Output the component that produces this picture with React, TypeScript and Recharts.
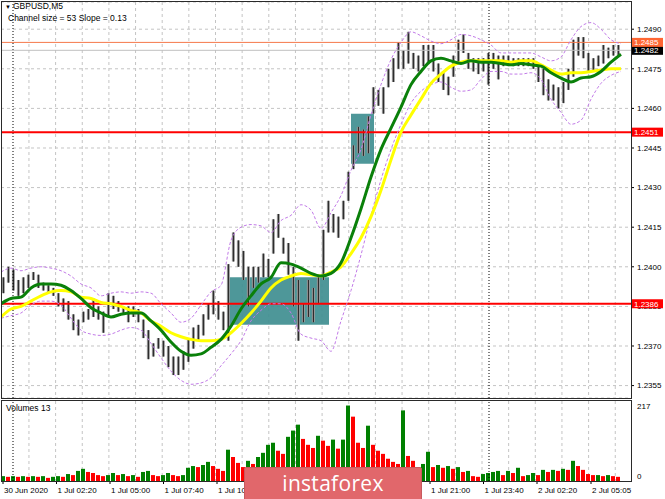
import React from 'react';
import {
  ComposedChart,
  Bar,
  Line,
  XAxis,
  YAxis,
  CartesianGrid,
  ReferenceLine,
  ReferenceArea,
} from 'recharts';

const FONT = '"Liberation Sans", Arial, sans-serif';

// 15-minute bars, 30 Jun 23:35 .. 2 Jul 06:35 (GBPUSD)
const highs = [
  1.2396, 1.24, 1.2399, 1.2395, 1.2396, 1.2397, 1.2398, 1.2397, 1.2394, 1.2393,
  1.2392, 1.239, 1.2388, 1.2387, 1.2382, 1.238, 1.2383, 1.2384, 1.2388, 1.2385,
  1.2383, 1.239, 1.2389, 1.2387, 1.2385, 1.2385, 1.2385, 1.2384, 1.238, 1.2376,
  1.2371, 1.2373, 1.2372, 1.237, 1.2366, 1.2366, 1.2368, 1.2373, 1.2377, 1.2378,
  1.2382, 1.2386, 1.2391, 1.2387, 1.2383, 1.2401, 1.2413, 1.241, 1.2406, 1.24,
  1.24, 1.24, 1.2405, 1.2403, 1.2418, 1.242, 1.2411, 1.2409, 1.24, 1.2395,
  1.2386, 1.2395, 1.2392, 1.2397, 1.2414, 1.2425, 1.242, 1.2419, 1.2425, 1.2436,
  1.2446, 1.2453, 1.2452, 1.2457, 1.2468, 1.2467, 1.2468, 1.2475, 1.2479, 1.2485,
  1.2482, 1.2489, 1.2481, 1.248, 1.2484, 1.2484, 1.2484, 1.2477, 1.2474, 1.2472,
  1.248, 1.2486, 1.2488, 1.2481, 1.2479, 1.2479, 1.2479, 1.2481, 1.2481, 1.248,
  1.248, 1.248, 1.2479, 1.2479, 1.2479, 1.2479, 1.2479, 1.2477, 1.2475, 1.2471,
  1.2469, 1.2468, 1.247, 1.2475, 1.2486, 1.2487, 1.2487, 1.2481, 1.2479, 1.248,
  1.2484, 1.2483, 1.2484, 1.2484,
];
const lows = [
  1.239, 1.2394, 1.2391, 1.2389, 1.239, 1.2392, 1.2395, 1.2392, 1.2391, 1.239,
  1.2389, 1.2385, 1.2383, 1.238, 1.2376, 1.2374, 1.2379, 1.238, 1.2381, 1.238,
  1.2375, 1.2381, 1.2384, 1.2383, 1.2382, 1.2379, 1.2381, 1.2379, 1.2373, 1.2365,
  1.2366, 1.2369, 1.2366, 1.2362, 1.2359, 1.2359, 1.2361, 1.2364, 1.2369, 1.2372,
  1.2374, 1.238, 1.2382, 1.238, 1.2376, 1.2372, 1.2402, 1.24, 1.2395, 1.2385,
  1.2392, 1.2394, 1.2396, 1.2396, 1.2405, 1.2411, 1.2405, 1.2397, 1.2385, 1.2372,
  1.2379, 1.2381, 1.2379, 1.2386, 1.2395, 1.2413, 1.2413, 1.2411, 1.2418, 1.2425,
  1.2437, 1.2443, 1.2442, 1.2443, 1.2458, 1.2461, 1.2458, 1.2468, 1.247, 1.2475,
  1.2475, 1.2477, 1.2475, 1.2474, 1.2476, 1.2477, 1.2474, 1.247, 1.2467, 1.2465,
  1.2472, 1.2477, 1.2481, 1.2475, 1.2474, 1.2473, 1.2474, 1.2469, 1.2475, 1.2471,
  1.2476, 1.2476, 1.2476, 1.2476, 1.2476, 1.2476, 1.2475, 1.247, 1.2465, 1.2463,
  1.2463, 1.246, 1.2462, 1.2467, 1.2472, 1.248, 1.2479, 1.2474, 1.2474, 1.2476,
  1.2477, 1.2479, 1.248, 1.248,
];
const volumes = [
  14, 12, 14, 12, 14, 12, 14, 12, 14, 9,
  12, 14, 12, 20, 17, 29, 35, 26, 23, 17,
  14, 17, 23, 17, 20, 14, 17, 12, 26, 29,
  17, 14, 17, 23, 17, 14, 17, 38, 43, 40,
  46, 55, 43, 35, 29, 90, 69, 52, 40, 58,
  49, 69, 81, 104, 110, 87, 78, 127, 145, 162,
  121, 104, 95, 130, 116, 101, 119, 93, 119, 217,
  185, 110, 95, 159, 104, 87, 78, 64, 55, 49,
  203, 72, 58, 40, 49, 84, 40, 46, 38, 43,
  35, 40, 26, 29, 14, 12, 20, 23, 26, 29,
  17, 29, 23, 38, 14, 17, 23, 17, 32, 26,
  32, 29, 35, 32, 58, 43, 32, 20, 17, 17,
  14, 17, 14, 12,
];

// moving averages and channel, one point every 2 bars
const greenMA = [
  1.2386, 1.2388, 1.23885, 1.2392, 1.23935, 1.23935, 1.2393, 1.2391, 1.2388, 1.23845,
  1.23825, 1.2381, 1.2382, 1.23825, 1.23825, 1.23795, 1.2376, 1.23715, 1.2368, 1.23665,
  1.2367, 1.23695, 1.23725, 1.23775, 1.2384, 1.2389, 1.23935, 1.2396, 1.24015, 1.2401,
  1.23995, 1.23975, 1.23965, 1.23975, 1.24015, 1.2411, 1.2422, 1.2434, 1.24445, 1.24525,
  1.24605, 1.2469, 1.2474, 1.2478, 1.2479, 1.2478, 1.2477, 1.2478, 1.24775, 1.24775,
  1.2477, 1.24765, 1.2477, 1.24765, 1.2476, 1.24735, 1.24715, 1.247, 1.24715, 1.2472,
  1.2474, 1.24775, 1.24805,
];
const yellowMA = [
  1.2381, 1.2384, 1.2385, 1.2387, 1.2389, 1.23905, 1.2391, 1.23905, 1.23885, 1.2388,
  1.23865, 1.2386, 1.2385, 1.23835, 1.23825, 1.23795, 1.23775, 1.2375, 1.23735, 1.23725,
  1.2372, 1.2372, 1.23725, 1.2375, 1.23785, 1.23825, 1.2387, 1.2392, 1.2395, 1.23965,
  1.23975, 1.2397, 1.23965, 1.2398, 1.24, 1.2405, 1.2411, 1.2419, 1.2429, 1.24405,
  1.2451, 1.24575, 1.24635, 1.24695, 1.2473, 1.2476, 1.24775, 1.2478, 1.2478, 1.2478,
  1.2478, 1.24775, 1.2478, 1.2478, 1.24765, 1.24745, 1.2473, 1.24735, 1.24735, 1.2474,
  1.24745, 1.2475, 1.2475,
];
const channelUpper = [
  1.2398, 1.23995, 1.23985, 1.23995, 1.24, 1.23995, 1.23985, 1.23965, 1.23935, 1.2392,
  1.2389, 1.239, 1.23905, 1.239, 1.23905, 1.239, 1.2386, 1.23825, 1.2379, 1.23805,
  1.23855, 1.23905, 1.2393, 1.241, 1.2415, 1.2416, 1.24155, 1.2413, 1.24175, 1.24195,
  1.24235, 1.24215, 1.24145, 1.24205, 1.2427, 1.24365, 1.24445, 1.24575, 1.2469, 1.24785,
  1.2485, 1.2489, 1.24875, 1.24855, 1.24845, 1.2486, 1.2488, 1.24875, 1.2486, 1.2484,
  1.2481, 1.2481, 1.2481, 1.2481, 1.24795, 1.2478, 1.24795, 1.2486, 1.2491, 1.24925,
  1.249, 1.2486, 1.24845,
];
const channelLower = [
  1.23805, 1.23815, 1.23825, 1.23855, 1.2387, 1.2387, 1.23855, 1.23805, 1.2376, 1.23745,
  1.2374, 1.23745, 1.2376, 1.2377, 1.2376, 1.2371, 1.23655, 1.23605, 1.2357, 1.23555,
  1.2356, 1.2358, 1.23625, 1.2367, 1.2372, 1.23795, 1.23835, 1.2386, 1.2386, 1.23825,
  1.23745, 1.2373, 1.2372, 1.2368, 1.23795, 1.2391, 1.24045, 1.24195, 1.2433, 1.24445,
  1.2454, 1.2462, 1.24665, 1.2469, 1.247, 1.2468, 1.24665, 1.2467, 1.2471, 1.2474,
  1.2474, 1.2473, 1.2473, 1.24735, 1.2471, 1.24635, 1.24585, 1.2454, 1.24555, 1.24635,
  1.24695, 1.24725, 1.2474,
];

const priceTicks = [1.2355, 1.237, 1.2385, 1.24, 1.2415, 1.243, 1.2445, 1.246, 1.2475, 1.249];
// labels 13:00, 15:40 and 18:20 lie under the watermark in the reference
const timeLabels = [
  '30 Jun 2020', '1 Jul 02:20', '1 Jul 05:00', '1 Jul 07:40', '1 Jul 10:20',
  '1 Jul 21:00', '1 Jul 23:40', '2 Jul 02:20', '2 Jul 05:05',
];
const timeSlots = [-0.1, 10.6, 21.3, 32, 42.7, 85.3, 96, 106.7, 117.5];
const daySeparators = [1.9, 97.1];

const supportLevel = 1.2386;
const resistanceLevel = 1.2451;
const highLevel = 1.2485;
const lastPrice = 1.2482;
const zone1 = { x1: 44.7, x2: 65.1, y1: 1.2378, y2: 1.2396 };
const zone2 = { x1: 69.5, x2: 74.1, y1: 1.2439, y2: 1.2458 };

const PRICE_DOMAIN: [number, number] = [1.23503, 1.25003];
const SLOT_DOMAIN: [number, number] = [-0.5, 125.5];

const candleData = highs.map((h, i) => ({ slot: i, range: [lows[i], h] }));
const volumeData = volumes.map((v, i) => ({
  slot: i,
  vol: v,
  up: i === 0 || v >= volumes[i - 1],
}));
const maSlots = greenMA.map((_, k) => 2 * k - 0.5);
const toSeries = (vals: number[]) => vals.map((v, k) => ({ slot: maSlots[k], v }));
const greenData = toSeries(greenMA);
const yellowData = toSeries(yellowMA);
const upperData = toSeries(channelUpper);
const lowerData = toSeries(channelLower);

const gridX: number[] = [];
for (let k = 1; k < 24; k++) gridX.push(2.3 + 26.65 * k);

const CandleShape = (p: any) => {
  const { x, y, width, height } = p;
  if (x == null || y == null) return null;
  const cx = x + width / 2;
  const top = Math.min(y, y + height);
  const bot = Math.max(y, y + height);
  return (
    <g>
      <rect x={cx - 1.5} y={top} width={3} height={Math.max(bot - top, 1)} fill="#9a9a9a" />
      <line x1={cx} x2={cx} y1={top} y2={Math.max(bot, top + 1)} stroke="#1e1e1e" strokeWidth={1} />
    </g>
  );
};

const VolShape = (p: any) => {
  const { x, y, width, height, payload } = p;
  if (x == null || y == null) return null;
  return (
    <rect
      x={x}
      y={y}
      width={width}
      height={Math.max(height, 0)}
      fill={payload && payload.up ? '#008000' : '#ff0000'}
    />
  );
};

const PriceTag = (p: any) => {
  const { viewBox, text, bg } = p;
  if (!viewBox) return null;
  const x = viewBox.x + viewBox.width + 1;
  const y = viewBox.y;
  return (
    <g>
      <rect x={x} y={y - 4.5} width={31} height={9} fill={bg} />
      <text x={x + 2} y={y + 3} fontSize={8} fill="#ffffff" fontFamily={FONT}>
        {text}
      </text>
    </g>
  );
};

const TimeTick = (p: any) => {
  const { x, y, index } = p;
  const label = timeLabels[index ?? 0] ?? '';
  return (
    <g>
      <line x1={x} x2={x} y1={y - 3} y2={y} stroke="#000" strokeWidth={1} />
      <text x={x + 1} y={y + 9} fontSize={8} fill="#000" fontFamily={FONT}>
        {label}
      </text>
    </g>
  );
};

const VolTick = (p: any) => {
  const { x, y, payload } = p;
  const dy = payload.value === 0 ? -2 : 3;
  return (
    <text x={x} y={y + dy} fontSize={8} fill="#000" fontFamily={FONT}>
      {payload.value}
    </text>
  );
};

export default function App() {
  return (
    <div
      style={{
        position: 'absolute',
        left: 0,
        top: 0,
        width: 665,
        height: 499,
        background: '#ffffff',
        overflow: 'hidden',
        fontFamily: FONT,
      }}
    >
      <div style={{ position: 'absolute', left: 0, top: 0 }}>
        <ComposedChart
          width={665}
          height={400}
          data={candleData}
          margin={{ top: 2, right: 0, bottom: 2, left: 1 }}
        >
          <CartesianGrid stroke="#c4c4c4" strokeDasharray="3 3" verticalPoints={gridX} />
          <XAxis type="number" dataKey="slot" domain={SLOT_DOMAIN} allowDataOverflow hide />
          <YAxis
            orientation="right"
            type="number"
            domain={PRICE_DOMAIN}
            allowDataOverflow
            ticks={priceTicks}
            interval={0}
            width={34}
            axisLine={false}
            tickLine={{ stroke: '#000' }}
            tickSize={3}
            tickMargin={3}
            tick={{ fontSize: 8, fill: '#000', fontFamily: FONT }}
            tickFormatter={(v: number) => v.toFixed(4)}
          />
          <ReferenceArea
            x1={zone1.x1}
            x2={zone1.x2}
            y1={zone1.y1}
            y2={zone1.y2}
            fill="#3f8e90"
            fillOpacity={0.92}
            stroke="none"
          />
          <ReferenceArea
            x1={zone2.x1}
            x2={zone2.x2}
            y1={zone2.y1}
            y2={zone2.y2}
            fill="#3f8e90"
            fillOpacity={0.92}
            stroke="none"
          />
          {daySeparators.map((s) => (
            <ReferenceLine key={s} x={s} stroke="#000" strokeDasharray="1 2" />
          ))}
          <ReferenceLine y={lastPrice} stroke="#c0c0c0" strokeWidth={1} />
          <ReferenceLine y={highLevel} stroke="#f5784a" strokeWidth={1} />
          <ReferenceLine y={resistanceLevel} stroke="#ff0000" strokeWidth={2} />
          <ReferenceLine y={supportLevel} stroke="#ff0000" strokeWidth={2} />
          <Bar dataKey="range" barSize={3} shape={<CandleShape />} isAnimationActive={false} />
          <Line
            data={upperData}
            dataKey="v"
            type="monotone"
            stroke="#c27be8"
            strokeWidth={1}
            strokeDasharray="3 2"
            dot={false}
            isAnimationActive={false}
          />
          <Line
            data={lowerData}
            dataKey="v"
            type="monotone"
            stroke="#c27be8"
            strokeWidth={1}
            strokeDasharray="3 2"
            dot={false}
            isAnimationActive={false}
          />
          <Line
            data={yellowData}
            dataKey="v"
            type="monotone"
            stroke="#ffff00"
            strokeWidth={3}
            dot={false}
            isAnimationActive={false}
          />
          <Line
            data={greenData}
            dataKey="v"
            type="monotone"
            stroke="#0a800a"
            strokeWidth={3}
            dot={false}
            isAnimationActive={false}
          />
        </ComposedChart>
      </div>

      {/* price tags drawn on top of the axis labels */}
      <div style={{ position: 'absolute', left: 0, top: 0, pointerEvents: 'none' }}>
        <ComposedChart
          width={665}
          height={400}
          data={candleData}
          margin={{ top: 2, right: 0, bottom: 2, left: 1 }}
        >
          <XAxis type="number" dataKey="slot" domain={SLOT_DOMAIN} allowDataOverflow hide />
          <YAxis
            orientation="right"
            type="number"
            domain={PRICE_DOMAIN}
            allowDataOverflow
            width={34}
            axisLine={false}
            tickLine={false}
            tick={false}
          />
          <ReferenceLine
            y={lastPrice}
            stroke="transparent"
            label={<PriceTag text="1.2482" bg="#000000" />}
          />
          <ReferenceLine
            y={highLevel}
            stroke="transparent"
            label={<PriceTag text="1.2485" bg="#ff6633" />}
          />
          <ReferenceLine
            y={resistanceLevel}
            stroke="transparent"
            label={<PriceTag text="1.2451" bg="#ff0000" />}
          />
          <ReferenceLine
            y={supportLevel}
            stroke="transparent"
            label={<PriceTag text="1.2386" bg="#ff0000" />}
          />
        </ComposedChart>
      </div>

      <div style={{ position: 'absolute', left: 0, top: 400 }}>
        <ComposedChart
          width={665}
          height={99}
          data={volumeData}
          margin={{ top: 1, right: 0, bottom: 0, left: 1 }}
        >
          <CartesianGrid
            stroke="#c4c4c4"
            strokeDasharray="3 3"
            horizontal={false}
            verticalPoints={gridX}
          />
          <XAxis
            type="number"
            dataKey="slot"
            domain={SLOT_DOMAIN}
            allowDataOverflow
            ticks={timeSlots}
            interval={0}
            height={18}
            axisLine={false}
            tickLine={false}
            tickSize={3}
            tickMargin={0}
            tick={<TimeTick />}
          />
          <YAxis
            orientation="right"
            type="number"
            domain={[0, 230]}
            allowDataOverflow
            ticks={[0, 217]}
            interval={0}
            width={34}
            axisLine={false}
            tickLine={false}
            tickSize={3}
            tickMargin={3}
            tick={<VolTick />}
          />
          {daySeparators.map((s) => (
            <ReferenceLine key={s} x={s} stroke="#000" strokeDasharray="1 2" />
          ))}
          <Bar dataKey="vol" barSize={4} shape={<VolShape />} isAnimationActive={false} />
        </ComposedChart>
      </div>

      {/* panel frames */}
      <div
        style={{
          position: 'absolute',
          left: 1,
          top: 1,
          width: 631,
          height: 398,
          border: '1px solid #2a2a2a',
          boxSizing: 'border-box',
          pointerEvents: 'none',
        }}
      />
      <div
        style={{
          position: 'absolute',
          left: 1,
          top: 400,
          width: 631,
          height: 82,
          border: '1px solid #2a2a2a',
          boxSizing: 'border-box',
          pointerEvents: 'none',
        }}
      />

      <div style={{ position: 'absolute', left: 5, top: 1, fontSize: 8.5, color: '#000', whiteSpace: 'nowrap' }}>
        <span style={{ fontSize: 6, marginRight: 2 }}>▼</span>GBPUSD,M5
      </div>
      <div style={{ position: 'absolute', left: 8, top: 13, fontSize: 8.5, color: '#000', whiteSpace: 'nowrap' }}>
        Channel size = 53 Slope = 0.13
      </div>
      <div style={{ position: 'absolute', left: 6, top: 403, fontSize: 8.5, color: '#000', whiteSpace: 'nowrap' }}>
        Volumes 13
      </div>

      <div
        style={{
          position: 'absolute',
          left: 244,
          top: 467,
          width: 178,
          height: 34,
          background: '#e1676b',
          border: '1px solid #c85a5e',
          borderRadius: 2,
          boxSizing: 'border-box',
          color: '#ffffff',
          fontFamily: '"Open Sans", "Liberation Sans", sans-serif',
          fontSize: 21,
          lineHeight: '30px',
          textAlign: 'center',
          letterSpacing: 0.3,
        }}
      >
        instaforex
      </div>
    </div>
  );
}
